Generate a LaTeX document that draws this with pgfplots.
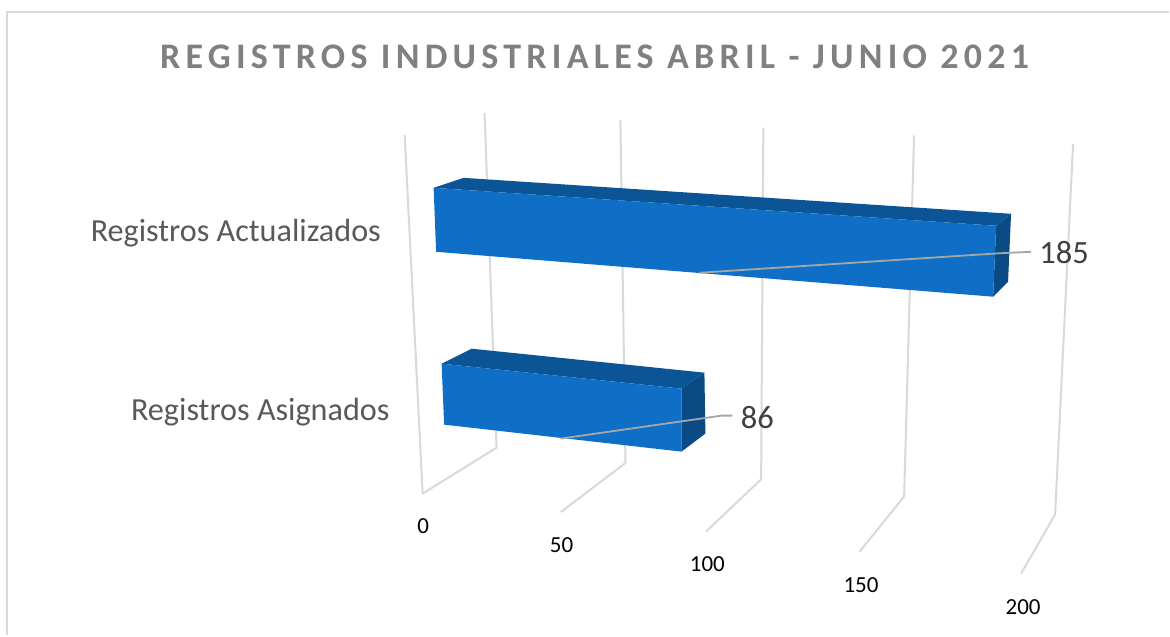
\documentclass[border=0pt]{standalone}
\usepackage{pgfplots}
\pgfplotsset{compat=1.18}
\usepackage{fontspec}
\setmainfont{Carlito}
\newfontfamily\titlefont[LetterSpace=14.6]{Carlito}
\definecolor{frontc}{HTML}{0F6FC6}
\definecolor{topc}{HTML}{0B5597}
\definecolor{sidec}{HTML}{0A4A85}
\definecolor{gridc}{HTML}{D9D9D9}
\definecolor{leadc}{HTML}{A6A6A6}
% Each row: value v on the axis, and the picture position of that edge at v=0 and at v=200.
% The chart's depth foreshortening along the value axis:
\def\T{((\thisrow{v}/200*0.9)/(1-0.1*\thisrow{v}/200))}
\def\XE{\thisrow{xa}+(\thisrow{xb}-\thisrow{xa})*\T}
\def\YE{\thisrow{ya}+(\thisrow{yb}-\thisrow{ya})*\T}
\newcommand\Gline[1]{\addplot[gridc,line width=2pt] table[x expr=\XE,y expr=\YE,row sep=crcr]{
v xa ya xb yb\\
#1 485 113 1074 144\\
#1 497 448 1056 515\\
#1 423 494 1022 574\\
};}
\begin{document}
\begin{tikzpicture}
\begin{axis}[
  scale only axis,width=1170pt,height=636pt,
  xmin=0,xmax=1170,ymin=0,ymax=636,y dir=reverse,
  hide axis,clip=false]
% page extent
\addplot[draw=none,fill=white] coordinates {(0,0) (1170,0) (1170,636) (0,636)};
% frame
\addplot[gridc,line width=2pt] coordinates {(7,636) (7,12) (1170,12)};
% gridlines
\Gline{0}\Gline{50}\Gline{100}\Gline{150}\Gline{200}
\addplot[gridc,line width=2pt] coordinates {(423,494) (405,135)};
% Registros Actualizados = 185
\addplot[draw=none,fill=topc] table[x expr=\XE,y expr=\YE,row sep=crcr]{
v xa ya xb yb\\
0 434 188 1047.7 229.4\\
185 434 188 1047.7 229.4\\
185 464 178 1061.3 217.2\\
0 464 178 1061.3 217.2\\
};
\addplot[draw=none,fill=sidec] table[x expr=\XE,y expr=\YE,row sep=crcr]{
v xa ya xb yb\\
185 434 188 1047.7 229.4\\
185 464 178 1061.3 217.2\\
185 466.5 242 1057.8 285.6\\
185 436.5 252 1044.2 301\\
};
\addplot[draw=none,fill=frontc] table[x expr=\XE,y expr=\YE,row sep=crcr]{
v xa ya xb yb\\
0 434 188 1047.7 229.4\\
185 434 188 1047.7 229.4\\
185 436.5 252 1044.2 301\\
0 436.5 252 1044.2 301\\
};
% Registros Asignados = 86
\addplot[draw=none,fill=topc] table[x expr=\XE,y expr=\YE,row sep=crcr]{
v xa ya xb yb\\
0 442 364 1035.5 425.8\\
86 442 364 1035.5 425.8\\
86 472 349 1048.2 408.3\\
0 472 349 1048.2 408.3\\
};
\addplot[draw=none,fill=sidec] table[x expr=\XE,y expr=\YE,row sep=crcr]{
v xa ya xb yb\\
86 442 364 1035.5 425.8\\
86 472 349 1048.2 408.3\\
86 474.5 410 1047 469.3\\
86 444.5 425 1031.8 491.8\\
};
\addplot[draw=none,fill=frontc] table[x expr=\XE,y expr=\YE,row sep=crcr]{
v xa ya xb yb\\
0 442 364 1035.5 425.8\\
86 442 364 1035.5 425.8\\
86 444.5 425 1031.8 491.8\\
0 444.5 425 1031.8 491.8\\
};
% leader lines
\addplot[leadc,line width=1.8pt] coordinates {(700,273) (1000,253.5) (1032,252)};
\addplot[leadc,line width=1.8pt] coordinates {(561,439) (722,416) (733,416)};
% value-axis tick labels
\addplot[draw=none,mark=none,nodes near coords,point meta=explicit symbolic,
  every node near coord/.append style={anchor=center,text=black,font=\fontsize{23}{27}\selectfont}]
  table[x expr=\XE,y expr=\YE,meta=v,row sep=crcr]{
v xa ya xb yb\\
0 423.5 526.5 1024 607.5\\
50 423.5 526.5 1024 607.5\\
100 423.5 526.5 1024 607.5\\
150 423.5 526.5 1024 607.5\\
200 423.5 526.5 1024 607.5\\
};
% texts
\node[text=black!50,font=\titlefont\bfseries\fontsize{36}{42}\selectfont,anchor=center] at (axis cs:595,57) {REGISTROS INDUSTRIALES ABRIL - JUNIO 2021};
\node[text=black!65,font=\fontsize{32.2}{37}\selectfont,anchor=center] at (axis cs:236,233) {Registros Actualizados};
\node[text=black!65,font=\fontsize{32.2}{37}\selectfont,anchor=center] at (axis cs:260.5,412.5) {Registros Asignados};
\node[text=black!75,font=\fontsize{32.5}{38}\selectfont,anchor=center] at (axis cs:1065,253) {185};
\node[text=black!75,font=\fontsize{32.5}{38}\selectfont,anchor=center] at (axis cs:758,418) {86};
\end{axis}
\end{tikzpicture}
\end{document}
